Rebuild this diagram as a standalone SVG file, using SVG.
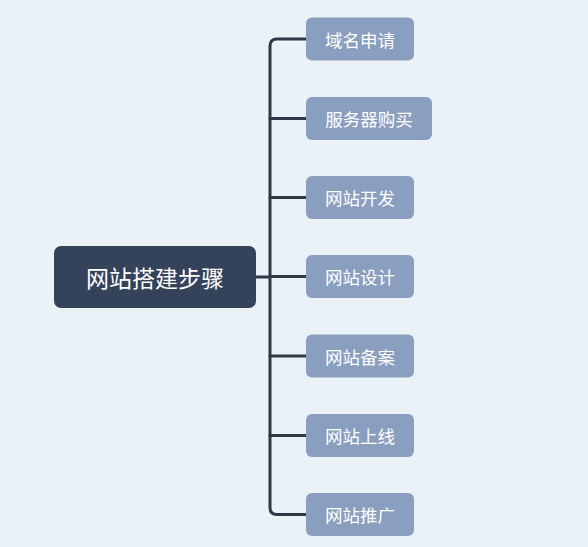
<svg xmlns="http://www.w3.org/2000/svg" width="588" height="547" viewBox="0 0 588 547">
<style>
.bg{fill:#eaf2f7}
.root{fill:#344359}
.child{fill:#8a9ec0}
.rt{fill:#ffffff;font-family:"Noto Sans CJK SC","Noto Sans",sans-serif;font-size:23px;text-anchor:middle;dominant-baseline:central}
.ct{fill:#ffffff;font-family:"Noto Sans CJK SC","Noto Sans",sans-serif;font-size:17.5px;text-anchor:middle;dominant-baseline:central}
.conn{fill:none;stroke:#2e3846;stroke-width:3;stroke-linecap:round}
</style>
<rect class="bg" x="0" y="0" width="588" height="547"/>
<g id="connectors">
<path class="conn" d="M256 277 H270"/>
<path class="conn" d="M306 39 H277 Q270 39 270 46 V507.5 Q270 514.5 277 514.5 H306"/>
<path class="conn" d="M270 118.5 H306"/>
<path class="conn" d="M270 197.5 H306"/>
<path class="conn" d="M270 276.5 H306"/>
<path class="conn" d="M270 356 H306"/>
<path class="conn" d="M270 435.5 H306"/>
</g>
<g id="root">
<rect class="root" x="54" y="246" width="202" height="62" rx="7"/>
<text class="rt" x="155" y="277">网站搭建步骤</text>
</g>
<g id="n1">
<rect class="child" x="306" y="17.5" width="108" height="43" rx="6"/>
<text class="ct" x="360" y="39">域名申请</text>
</g>
<g id="n2">
<rect class="child" x="306" y="97" width="126" height="43" rx="6"/>
<text class="ct" x="369" y="118.5">服务器购买</text>
</g>
<g id="n3">
<rect class="child" x="306" y="176" width="108" height="43" rx="6"/>
<text class="ct" x="360" y="197.5">网站开发</text>
</g>
<g id="n4">
<rect class="child" x="306" y="255" width="108" height="43" rx="6"/>
<text class="ct" x="360" y="276.5">网站设计</text>
</g>
<g id="n5">
<rect class="child" x="306" y="334.5" width="108" height="43" rx="6"/>
<text class="ct" x="360" y="356">网站备案</text>
</g>
<g id="n6">
<rect class="child" x="306" y="414" width="108" height="43" rx="6"/>
<text class="ct" x="360" y="435.5">网站上线</text>
</g>
<g id="n7">
<rect class="child" x="306" y="493" width="108" height="43" rx="6"/>
<text class="ct" x="360" y="514.5">网站推广</text>
</g>
</svg>
